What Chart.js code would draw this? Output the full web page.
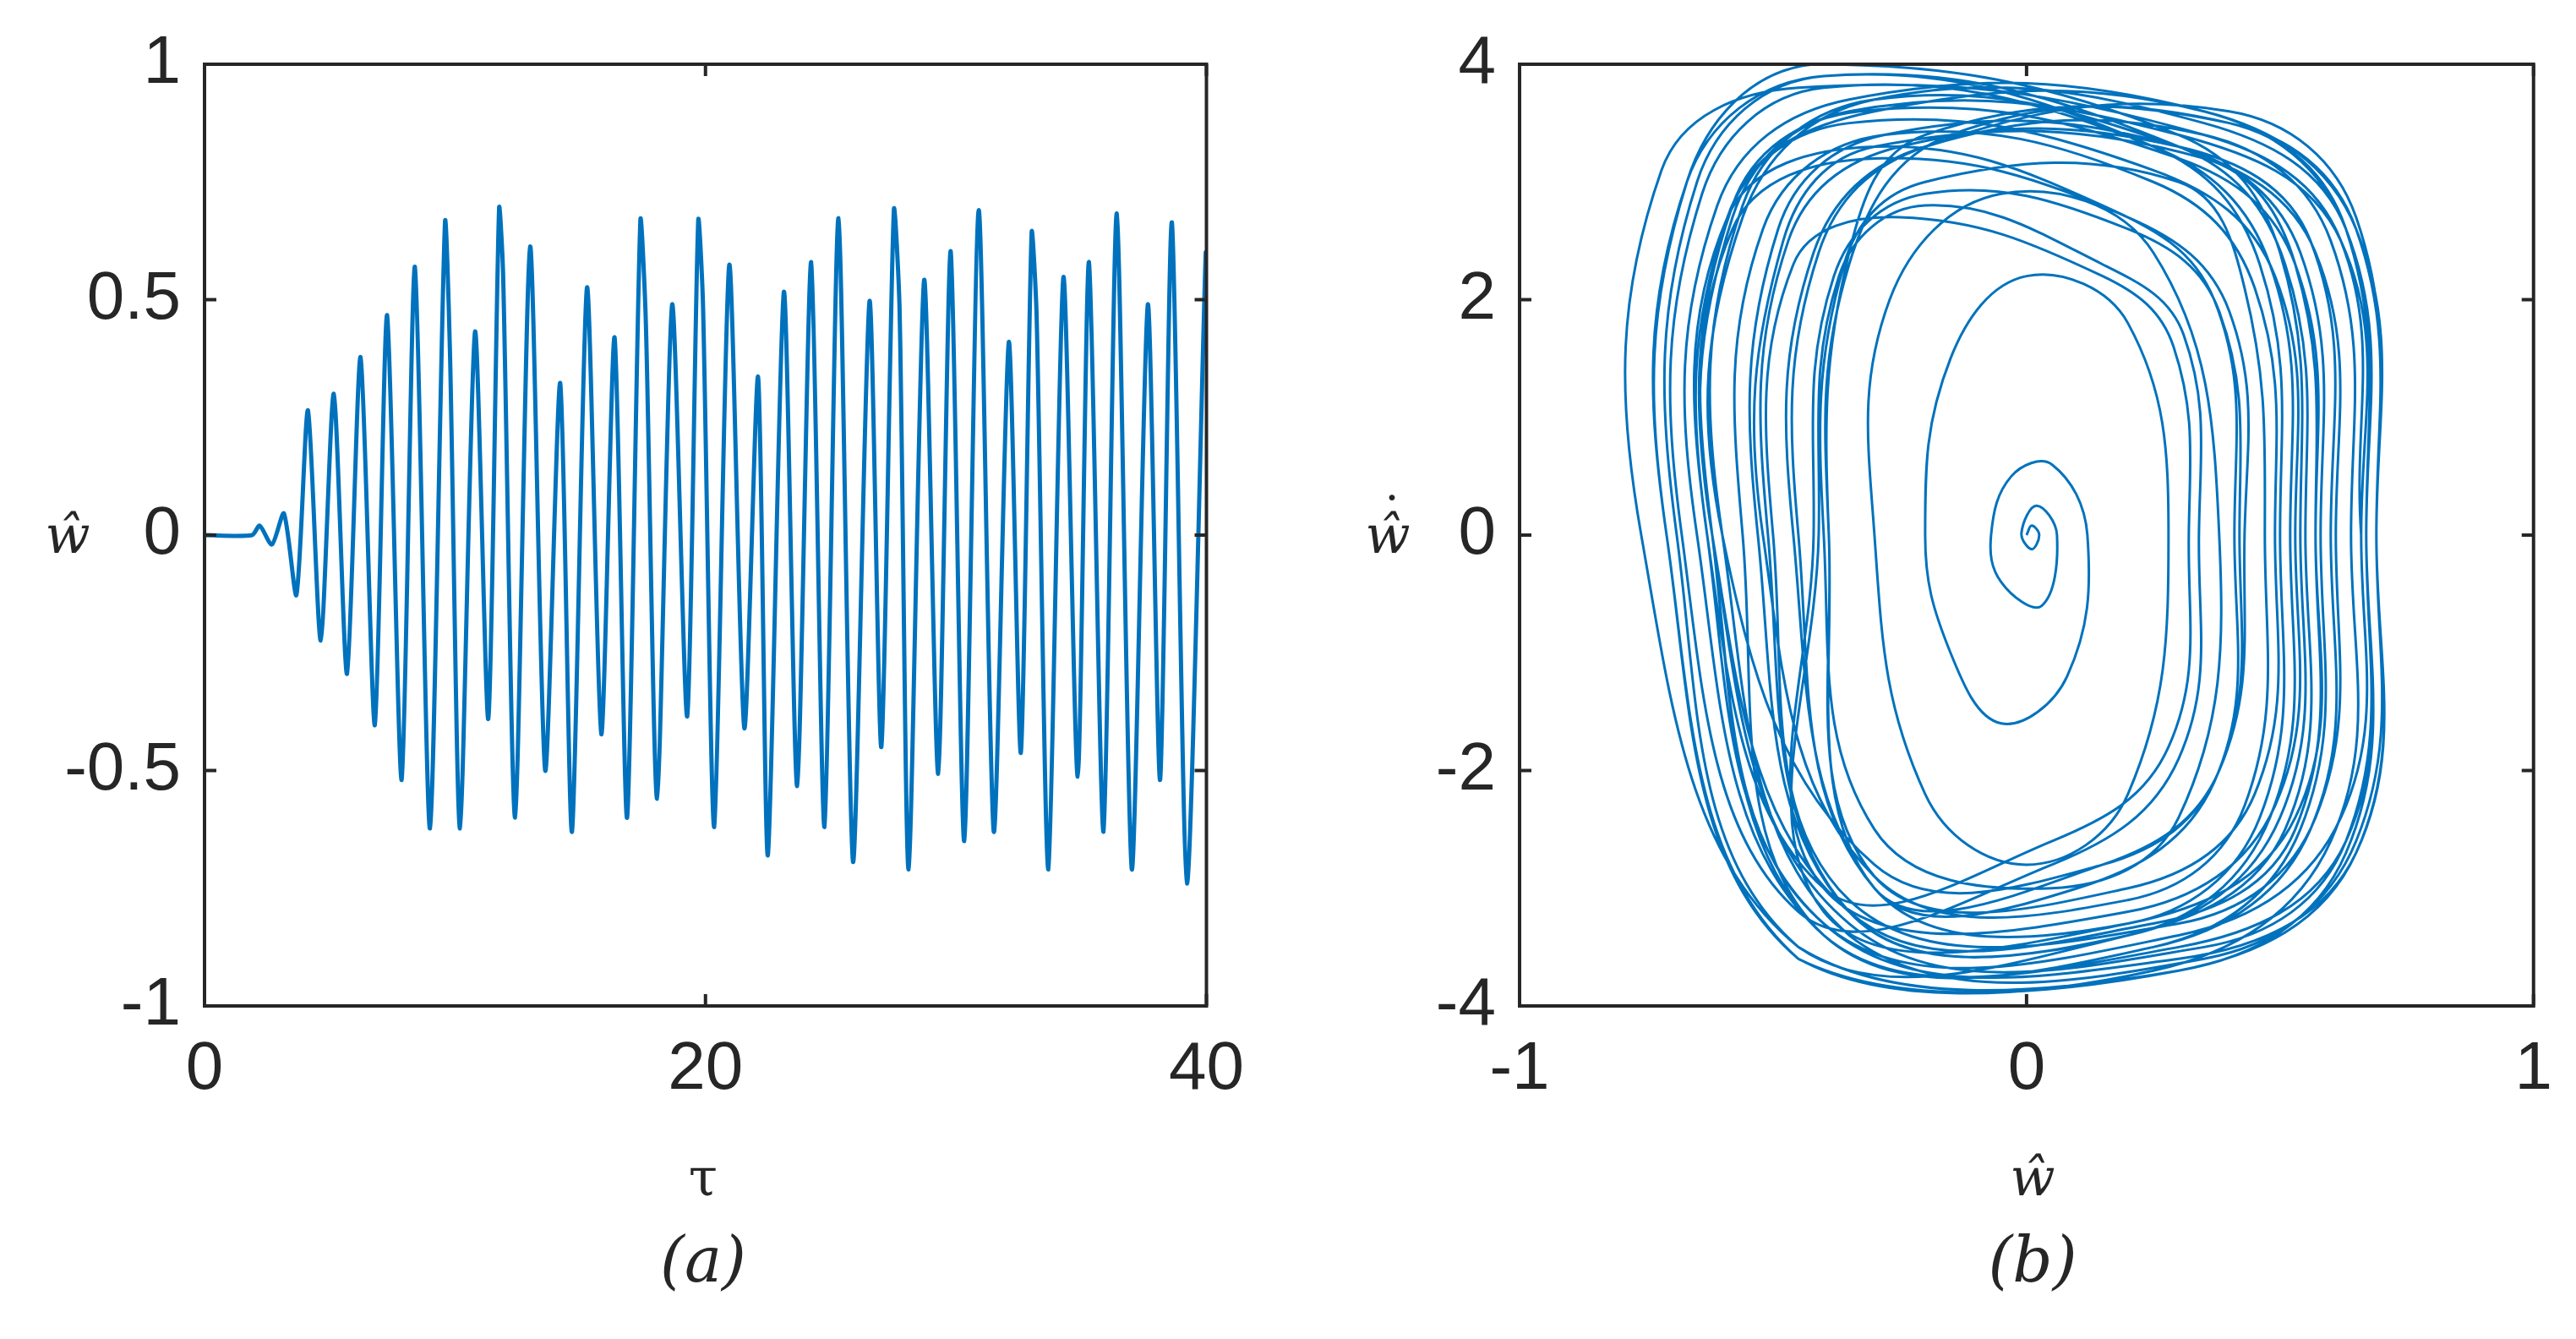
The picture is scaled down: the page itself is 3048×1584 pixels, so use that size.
<!DOCTYPE html>
<html>
<head>
<meta charset="utf-8">
<script src="https://cdn.jsdelivr.net/npm/chart.js@4"></script>
<style>
  body { margin: 0; width: 3048px; height: 1584px; background: #fff; position: relative; overflow: hidden; }
  canvas { position: absolute; top: 0; }
  .lbl { position: absolute; transform: translate(-50%, -50%); color: #262626; white-space: nowrap; }
  .it { font-family: "DejaVu Serif", "Liberation Serif", serif; font-style: italic; }
</style>
</head>
<body>
<canvas id="chartA" width="1500" height="1584" style="left:0"></canvas>
<canvas id="chartB" width="1548" height="1584" style="left:1500px"></canvas>
<div class="lbl it" style="left:80px;top:632px;font-size:62px">ŵ</div>
<div class="lbl" style="left:832px;top:1392px;font-size:62px;font-family:'DejaVu Serif',serif">τ</div>
<div class="lbl it" style="left:832px;top:1490px;font-size:74px">(a)</div>
<div class="lbl it" style="left:1642px;top:632px;font-size:62px">ŵ</div>
<div class="lbl" style="left:1647px;top:610px;font-size:60px;font-family:'DejaVu Serif',serif">˙</div>
<div class="lbl it" style="left:2405px;top:1392px;font-size:62px">ŵ</div>
<div class="lbl it" style="left:2405px;top:1490px;font-size:74px">(b)</div>
<script>
// (a) time history: extrema
const tau = [0, 1.9, 2.2, 2.69, 3.17, 3.67, 4.13, 4.64, 5.16, 5.69,
  6.23, 6.8, 7.29, 7.87, 8.4, 9.0, 9.6, 9.8, 10.2, 10.8,
  11.33, 11.76, 11.92, 12.4, 13.0, 13.6, 14.2, 14.67, 15.27, 15.84,
  16.37, 16.87, 17.4, 17.62, 18.07, 18.67, 19.27, 19.71, 19.9, 20.35,
  20.95, 21.55, 22.1, 22.49, 23.13, 23.66, 24.22, 24.75, 25.31, 25.89,
  26.55, 27.02, 27.52, 27.75, 28.11, 28.73, 29.29, 29.79, 30.33, 30.91,
  31.51, 32.11, 32.59, 33.02, 33.22, 33.69, 34.29, 34.86, 35.31, 35.89,
  36.42, 37.02, 37.66, 38.15, 38.62, 39.22, 39.97, 40];
const wHat = [0, 0, 0.02, -0.02, 0.046, -0.127, 0.265, -0.224, 0.30, -0.295,
  0.378, -0.404, 0.467, -0.52, 0.57, -0.623, 0.664, 0.387, -0.623, 0.432,
  -0.39, 0.694, 0.555, -0.60, 0.613, -0.50, 0.323, -0.63, 0.526, -0.423,
  0.42, -0.60, 0.668, 0.45, -0.56, 0.49, -0.385, 0.668, 0.49, -0.62,
  0.574, -0.41, 0.336, -0.68, 0.517, -0.533, 0.58, -0.62, 0.673, -0.694,
  0.497, -0.45, 0.69, 0.477, -0.71, 0.542, -0.507, 0.603, -0.65, 0.69,
  -0.63, 0.41, -0.462, 0.642, 0.465, -0.71, 0.548, -0.513, 0.58, -0.63,
  0.683, -0.71, 0.49, -0.52, 0.664, -0.74, 0.60, 0.58];

// (b) phase portrait: trajectory points, one loop per row
const phaseW = [
  0, 0.01, 0.025, 0.01, -0.01, 0.02, 0.06, 0.03, -0.05, -0.07, -0.03, 0.05, 0.12, 0.08, -0.05, -0.15,
  -0.2, -0.15, 0, 0.2, 0.28, 0.2, 0, -0.2,
  -0.3, -0.27, -0.05, 0.25, 0.38, 0.3, 0.05, -0.3,
  -0.40, -0.36, -0.2, 0.3, 0.43, 0.47, 0.43, 0.2, -0.3,
  -0.52, -0.48, -0.3, 0.35, 0.53, 0.57, 0.53, 0.25, -0.35,
  -0.62, -0.58, -0.35, 0.3, 0.62, 0.66, 0.62, 0.3, -0.4,
  -0.62, -0.58, -0.3, 0.2, 0.40, 0.43, 0.38, 0.15, -0.3,
  -0.39, -0.35, -0.2, 0.4, 0.65, 0.69, 0.65, 0.35, -0.35,
  -0.60, -0.56, -0.3, 0.3, 0.57, 0.61, 0.57, 0.3, -0.35,
  -0.50, -0.46, -0.25, 0.15, 0.29, 0.32, 0.28, 0.05, -0.4,
  -0.63, -0.59, -0.35, 0.25, 0.49, 0.53, 0.49, 0.2, -0.4,
  -0.42, -0.38, -0.2, 0.2, 0.38, 0.42, 0.38, 0.15, -0.3,
  -0.60, -0.56, -0.3, 0.35, 0.63, 0.67, 0.63, 0.3, -0.4,
  -0.56, -0.52, -0.28, 0.25, 0.45, 0.49, 0.45, 0.2, -0.3,
  -0.39, -0.35, -0.15, 0.4, 0.63, 0.67, 0.63, 0.35, -0.35,
  -0.62, -0.58, -0.33, 0.3, 0.53, 0.57, 0.53, 0.2, -0.4,
  -0.41, -0.37, -0.2, 0.15, 0.31, 0.34, 0.3, 0.05, -0.45,
  -0.68, -0.64, -0.4, 0.25, 0.48, 0.52, 0.48, 0.2, -0.35,
  -0.53, -0.49, -0.28, 0.3, 0.54, 0.58, 0.54, 0.25, -0.4,
  -0.62, -0.58, -0.3, 0.35, 0.63, 0.67, 0.63, 0.3, -0.45,
  -0.69, -0.65, -0.4, 0.25, 0.46, 0.50, 0.46, 0.2, -0.3,
  -0.45, -0.41, -0.2, 0.4, 0.65, 0.69, 0.65, 0.3, -0.45,
  -0.71, -0.67, -0.42, 0.3, 0.50, 0.54, 0.5, 0.2, -0.35,
  -0.51, -0.47, -0.25, 0.3, 0.56, 0.60, 0.56, 0.25, -0.4,
  -0.65, -0.61, -0.35, 0.35, 0.65, 0.69, 0.65, 0.3, -0.4,
  -0.63, -0.59, -0.3, 0.15, 0.37, 0.41, 0.37, 0.1, -0.3,
  -0.46, -0.42, -0.2, 0.35, 0.60, 0.64, 0.6, 0.25, -0.45,
  -0.71, -0.67, -0.4, 0.3, 0.51, 0.55, 0.51, 0.2, -0.45,
  -0.76, -0.72, -0.45, 0.35, 0.62, 0.66, 0.62
];
const phaseV = [
  0, 0.08, 0, -0.12, 0.02, 0.25, 0, -0.6, -0.4, 0, 0.5, 0.6, 0, -1.2, -1.6, -1.0,
  0, 1.5, 2.2, 1.8, 0, -2.2, -2.8, -2.2,
  0, 2.0, 2.9, 2.4, 0, -2.4, -3.0, -2.5,
  0, 2.3, 3.0, 3.0, 2.1, 0, -2.3, -3.1, -2.9,
  0, 2.5, 3.3, 3.2, 2.3, 0, -2.5, -3.3, -3.2,
  0, 2.7, 3.6, 3.4, 2.5, 0, -2.4, -3.4, -3.3,
  0, 2.6, 3.2, 2.7, 1.9, 0, -2.0, -2.8, -3.0,
  0, 2.4, 3.4, 3.5, 2.6, 0, -2.6, -3.6, -3.4,
  0, 2.8, 3.7, 3.3, 2.4, 0, -2.4, -3.3, -3.1,
  0, 2.3, 2.7, 2.2, 1.6, 0, -1.8, -2.6, -3.0,
  0, 2.7, 3.5, 3.1, 2.2, 0, -2.3, -3.2, -3.0,
  0, 2.2, 2.9, 2.6, 1.9, 0, -2.0, -2.8, -2.8,
  0, 2.7, 3.7, 3.5, 2.6, 0, -2.6, -3.5, -3.4,
  0, 2.6, 3.4, 3.0, 2.1, 0, -2.2, -3.0, -2.9,
  0, 2.3, 3.4, 3.5, 2.6, 0, -2.6, -3.5, -3.3,
  0, 2.8, 3.6, 3.2, 2.3, 0, -2.4, -3.3, -3.2,
  0, 2.2, 2.8, 2.3, 1.7, 0, -1.9, -2.8, -3.2,
  0, 2.9, 3.8, 3.3, 2.3, 0, -2.4, -3.4, -3.2,
  0, 2.6, 3.4, 3.3, 2.4, 0, -2.5, -3.5, -3.4,
  0, 2.8, 3.6, 3.6, 2.6, 0, -2.7, -3.7, -3.5,
  0, 3.0, 3.9, 3.3, 2.3, 0, -2.4, -3.3, -3.0,
  0, 2.4, 3.3, 3.6, 2.7, 0, -2.7, -3.7, -3.6,
  0, 3.0, 4.0, 3.4, 2.4, 0, -2.4, -3.4, -3.2,
  0, 2.5, 3.3, 3.3, 2.5, 0, -2.5, -3.5, -3.4,
  0, 2.8, 3.7, 3.6, 2.6, 0, -2.7, -3.6, -3.3,
  0, 2.7, 3.3, 2.8, 2.0, 0, -2.1, -3.0, -3.0,
  0, 2.4, 3.3, 3.4, 2.5, 0, -2.6, -3.7, -3.6,
  0, 3.0, 3.9, 3.3, 2.3, 0, -2.5, -3.4, -3.5,
  0, 3.1, 3.8, 3.4, 2.5, 0
];

const lineColor = "#0072BD";
const textColor = "#262626";
const tickFont = { family: "'Liberation Sans', Arial, sans-serif", size: 80 };

// box frame with inward ticks on all four sides, matlab style
const boxPlugin = {
  id: "box",
  afterDraw(chart) {
    const { ctx, chartArea: a, scales } = chart;
    ctx.save();
    ctx.strokeStyle = textColor;
    ctx.lineWidth = 4;
    ctx.strokeRect(a.left, a.top, a.right - a.left, a.bottom - a.top);
    const len = 14;
    ctx.beginPath();
    scales.x.ticks.forEach((t) => {
      const px = scales.x.getPixelForValue(t.value);
      ctx.moveTo(px, a.bottom); ctx.lineTo(px, a.bottom - len);
      ctx.moveTo(px, a.top); ctx.lineTo(px, a.top + len);
    });
    scales.y.ticks.forEach((t) => {
      const py = scales.y.getPixelForValue(t.value);
      ctx.moveTo(a.left, py); ctx.lineTo(a.left + len, py);
      ctx.moveTo(a.right, py); ctx.lineTo(a.right - len, py);
    });
    ctx.stroke();
    ctx.restore();
  },
};

function axis(min, max, step, size) {
  return {
    type: "linear", min, max,
    grid: { display: false, drawTicks: false },
    border: { display: false },
    ticks: { stepSize: step, font: tickFont, color: textColor, padding: 28, callback: (v) => String(v) },
    afterFit: (s) => { if (s.isHorizontal()) s.height = size; else s.width = size; },
  };
}

function makeChart(id, points, xs, ys, pad, width, smooth) {
  return new Chart(document.getElementById(id), {
    type: "scatter",
    data: {
      datasets: [{
        data: points,
        showLine: true,
        borderColor: lineColor,
        borderWidth: width,
        pointRadius: 0,
        tension: smooth,
      }],
    },
    options: {
      responsive: false,
      animation: false,
      devicePixelRatio: 1,
      layout: { padding: pad },
      plugins: { legend: { display: false }, tooltip: { enabled: false } },
      scales: { x: xs, y: ys },
    },
    plugins: [boxPlugin],
  });
}

makeChart("chartA", tau.map((t, i) => ({ x: t, y: wHat[i] })),
  axis(0, 40, 20, 150), axis(-1, 1, 0.5, 242),
  { top: 68, right: 71, bottom: 244, left: 0 }, 5, 0.25);

makeChart("chartB", phaseW.map((w, i) => ({ x: w, y: phaseV[i] })),
  axis(-1, 1, 1, 150), axis(-4, 4, 2, 298),
  { top: 68, right: 35, bottom: 244, left: 0 }, 3, 0.4);
</script>
</body>
</html>
